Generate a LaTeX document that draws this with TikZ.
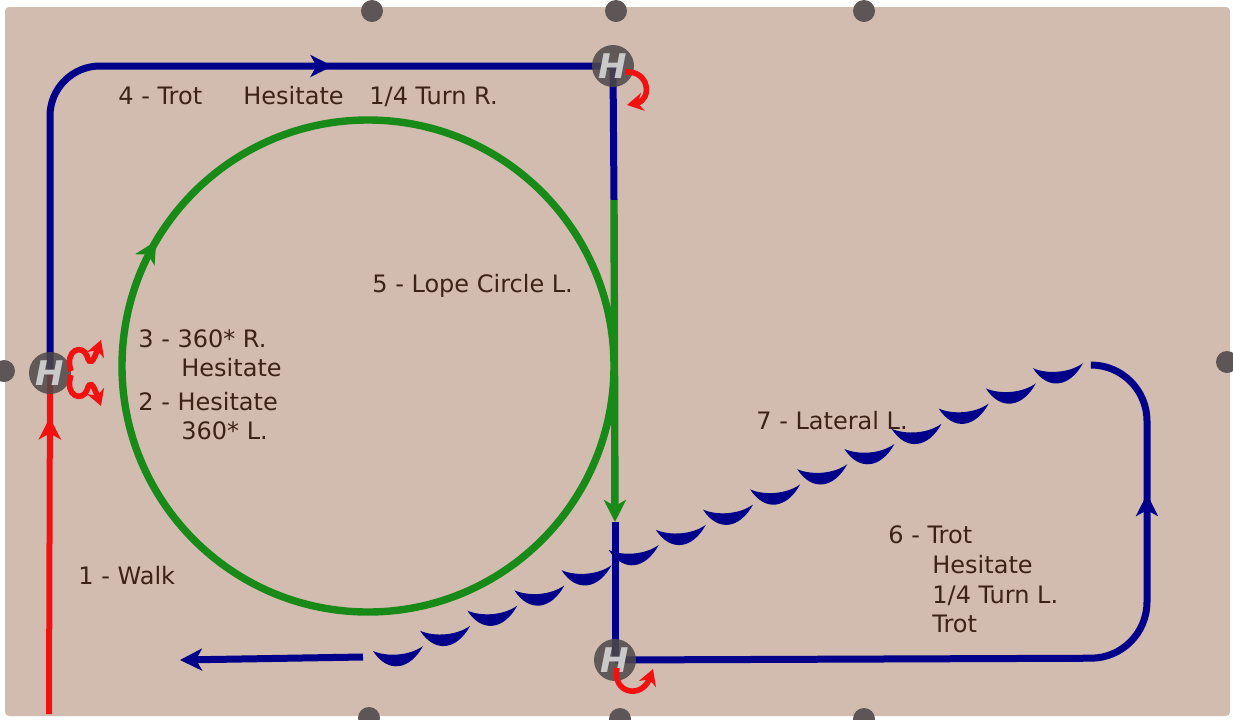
\documentclass[tikz,border=0pt]{standalone}
\usepackage{fontspec}
\setmainfont{DejaVu Sans}
\usetikzlibrary{arrows.meta,decorations.markings}
\definecolor{bgc}{HTML}{D2BCAF}
\definecolor{navy}{HTML}{00008A}
\definecolor{grn}{HTML}{178A17}
\definecolor{dotc}{HTML}{5E5656}
\definecolor{txt}{HTML}{3B2416}
\definecolor{hfill}{HTML}{4E4848}
\definecolor{hletter}{HTML}{C9C9C9}
\definecolor{redc}{HTML}{F21010}
\pgfdeclarelayer{back}
\pgfsetlayers{back,main}
\tikzset{
  lbl/.style={anchor=base west, inner sep=0pt, text=txt, font=\fontsize{12}{14}\selectfont},
  hmark/.style={circle, fill=hfill, fill opacity=0.85, text opacity=1, minimum size=21pt, inner sep=0pt,
    text=hletter, font=\fontsize{17}{17}\selectfont\bfseries\itshape},
  bluepath/.style={draw=navy, line width=3.5pt},
  greenpath/.style={draw=grn, line width=3.7pt},
  redpath/.style={draw=redc, line width=3pt},
  turn/.style={draw=redc, line width=2.8pt, -{Stealth[length=8pt,width=9pt]}},
  tipb/.style={-{Stealth[length=11pt,width=11pt,inset=3pt]}},
  midarrow/.style 2 args={postaction={decorate, decoration={markings,
      mark=at position #1 with {\arrow{Stealth[length=11pt,width=11pt,inset=3pt,#2]}}}}},
  dotm/.style={circle, fill=dotc, minimum size=11pt, inner sep=0pt},
  scal/.pic={\fill[navy] (-25,2) .. controls (-10,25) and (12,21) .. (25,-3)
     .. controls (11,7) and (-11,8) .. (-25,2) -- cycle;}
}
\begin{document}
\begin{tikzpicture}[x=0.5pt,y=-0.5pt]
\useasboundingbox (0,0) rectangle (1233,719);
\begin{pgfonlayer}{back}
\fill[bgc, rounded corners=2pt] (5,7) rectangle (1230,716);
\end{pgfonlayer}
% edge dots
\node[dotm] (d1) at (372,11) {};
\node[dotm] (d2) at (616,11) {};
\node[dotm] (d3) at (864,11) {};
\node[dotm] (d4) at (4,371) {};
\node[dotm] (d5) at (1227,362) {};
\node[dotm] (d6) at (369,718) {};
\node[dotm] (d7) at (620,719) {};
\node[dotm] (d8) at (864,719) {};
% H markers
\node[hmark] (HL) at (50,373) {H};
\node[hmark] (HT) at (613,66) {H};
\node[hmark] (HB) at (615,660) {H};
% coordinates
\coordinate (rs) at (49,714);
\coordinate (c1) at (50,66);
\coordinate (g0) at (614,200);
\coordinate (g1) at (615,522);
\coordinate (c2) at (1147,658);
\coordinate (c3) at (1147,365);
\coordinate (e1) at (1092,365);
\coordinate (la1) at (363,657);
\coordinate (la2) at (180,660);
\coordinate (cc) at (368,366);
\begin{pgfonlayer}{back}
% red walk
\draw[redpath, midarrow={0.87}{}] (rs) -- (HL.center);
% blue trot to top H
\draw[bluepath, rounded corners=25pt, midarrow={284pt}{}] (HL.center) -- (c1) -- (HT.center);
\draw[bluepath] (HT.center) -- (g0);
% green lope circle
\draw[greenpath, midarrow={0.585}{}] (cc) ++(246,0) arc[start angle=0, end angle=360, radius=246];
\draw[greenpath, tipb] (g0) -- (g1);
\draw[bluepath] (g1) -- (HB.center);
% bottom trot
\draw[bluepath, rounded corners=28pt, midarrow={336pt}{}] (HB.center) -- (c2) -- (c3) -- (e1);
% lateral crescents
\foreach \i in {0,...,14} \pic at ({398+47.14*\i},{649-20.2*\i}) {scal};
% final arrow
\draw[bluepath, tipb] (la1) -- (la2);
\end{pgfonlayer}
% red turn arrows
\draw[turn] (HT.center) ++(12,6) .. controls (650,70) and (652,100) .. (627,105);
\draw[turn] (HB.center) ++(2,8) .. controls (612,694) and (642,699) .. (653,669);
\draw[turn] (HL.center) ++(21,-2) .. controls (64,349) and (83,344) .. (87,356)
   .. controls (90,366) and (93,362) .. (101,340);
\draw[turn] (HL.center) ++(21,2) .. controls (64,397) and (83,402) .. (87,390)
   .. controls (90,380) and (93,384) .. (101,406);
% labels
\node[lbl] (t4a) at (118,104) {4 - Trot};
\node[lbl] (t4b) at (243,104) {Hesitate};
\node[lbl] (t4c) at (369,104) {1/4 Turn R.};
\node[lbl] (t5) at (372,292) {5 - Lope Circle L.};
\node[lbl] (t3a) at (138,347) {3 - 360* R.};
\node[lbl] (t3b) at (181,376) {Hesitate};
\node[lbl] (t2a) at (138,410) {2 - Hesitate};
\node[lbl] (t2b) at (181,439) {360* L.};
\node[lbl] (t7) at (756,429) {7 - Lateral L.};
\node[lbl] (t6a) at (888,543) {6 - Trot};
\node[lbl] (t6b) at (932,573) {Hesitate};
\node[lbl] (t6c) at (932,603) {1/4 Turn L.};
\node[lbl] (t6d) at (932,632) {Trot};
\node[lbl] (t1) at (78,584) {1 - Walk};
\end{tikzpicture}
\end{document}
